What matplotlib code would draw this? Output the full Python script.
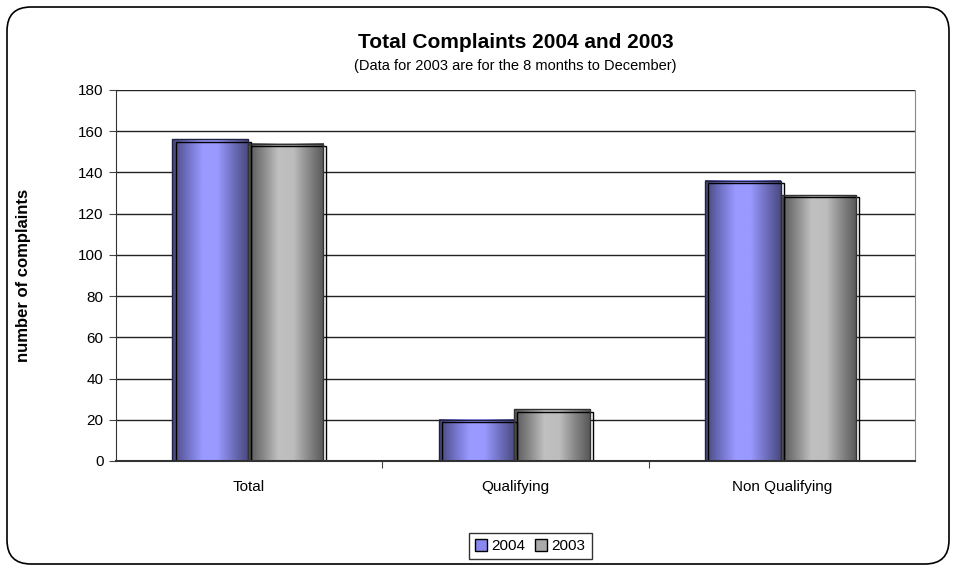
import numpy as np
import matplotlib
matplotlib.use("Agg")
import matplotlib.pyplot as plt
from matplotlib.colors import LinearSegmentedColormap
from matplotlib.patches import FancyBboxPatch, Rectangle, Patch

categories = ["Total", "Qualifying", "Non Qualifying"]
series_names = ["2004", "2003"]
values_2004 = [156, 20, 136]
values_2003 = [154, 25, 129]
yticks = [0, 20, 40, 60, 80, 100, 120, 140, 160, 180]

plt.rcParams['font.family'] = ['Liberation Sans', 'DejaVu Sans']

fig = plt.figure(figsize=(9.57, 5.71), dpi=100)
fig.patch.set_facecolor("white")

# rounded border
border = FancyBboxPatch((7/957, 7/571), 942/957, 557/571,
                        boxstyle="round,pad=0,rounding_size=0.025",
                        transform=fig.transFigure, fill=False, lw=1.2,
                        ec="black", mutation_aspect=957/571)
fig.patches.append(border)

ax = fig.add_axes([116/957, 1-461/571, (915-116)/957, (461-90)/571])
ax.set_xlim(0, 3)
ax.set_ylim(0, 180)
ax.set_yticks(yticks)
ax.set_yticklabels([str(t) for t in yticks], fontsize=11)
for t in yticks[1:]:
    ax.axhline(t, color="#222222", lw=1.0, zorder=0)

blue_cmap = LinearSegmentedColormap.from_list(
    "b", ["#464678", "#7070c4", "#9999ff", "#9999ff", "#7070c0", "#4a4a80"])
gray_cmap = LinearSegmentedColormap.from_list(
    "g", ["#555555", "#888888", "#c0c0c0", "#bdbdbd", "#888888", "#585858"])
grad = np.linspace(0, 1, 256).reshape(1, -1)

bw = 0.283
for i, (v4, v3) in enumerate(zip(values_2004, values_2003)):
    c = i + 0.495
    for x0, v, cm in [(c - bw, v4, blue_cmap), (c, v3, gray_cmap)]:
        ax.imshow(grad, cmap=cm, extent=[x0, x0 + bw, 0, v], aspect="auto",
                  zorder=2, interpolation="bilinear")
        ax.add_patch(Rectangle((x0 + 0.012, 0), bw, v - 1.0, fill=False,
                               ec="black", lw=1.0, zorder=2.5))
        ax.add_patch(Rectangle((x0, 0), bw, v, fill=False,
                               ec="#222244" if cm is blue_cmap else "#333333",
                               lw=1.0, zorder=3))

ax.set_xticks([1, 2])
ax.set_xticklabels([])
ax.tick_params(axis="x", length=5, direction="out", color="#444444")
ax.tick_params(axis="y", length=5, direction="out", color="#444444", pad=4)
for i, cat in enumerate(categories):
    ax.text(i + 0.5, -9, cat, ha="center", va="top", fontsize=11)

ax.spines["top"].set_visible(False)
ax.spines["right"].set_color("#888888")
ax.spines["left"].set_color("#333333")
ax.spines["bottom"].set_color("#333333")
ax.spines["bottom"].set_linewidth(1.5)
ax.set_xlim(0, 3)
ax.set_ylim(0, 180)

ax.set_ylabel("number of complaints", fontsize=12, fontweight="bold")
ax.yaxis.set_label_coords((31 - 116) / 799, 0.5)

fig.text(0.5 * (116 + 915) / 957, 1 - 43/571, "Total Complaints 2004 and 2003",
         ha="center", va="center", fontsize=15, fontweight="bold")
fig.text(0.5 * (116 + 915) / 957, 1 - 66/571,
         "(Data for 2003 are for the 8 months to December)",
         ha="center", va="center", fontsize=10.5)

handles = [Patch(facecolor="#8888ee", edgecolor="black", label="2004"),
           Patch(facecolor="#aaaaaa", edgecolor="black", label="2003")]
leg = fig.legend(handles=handles, loc="center", bbox_to_anchor=(530/957, 1 - 546/571),
                 ncol=2, fontsize=11, frameon=True, fancybox=False,
                 edgecolor="black", handlelength=0.8, handleheight=0.8,
                 handletextpad=0.3, columnspacing=0.6, borderpad=0.4)
leg.get_frame().set_linewidth(1.0)

fig.savefig("out.png", dpi=100)
